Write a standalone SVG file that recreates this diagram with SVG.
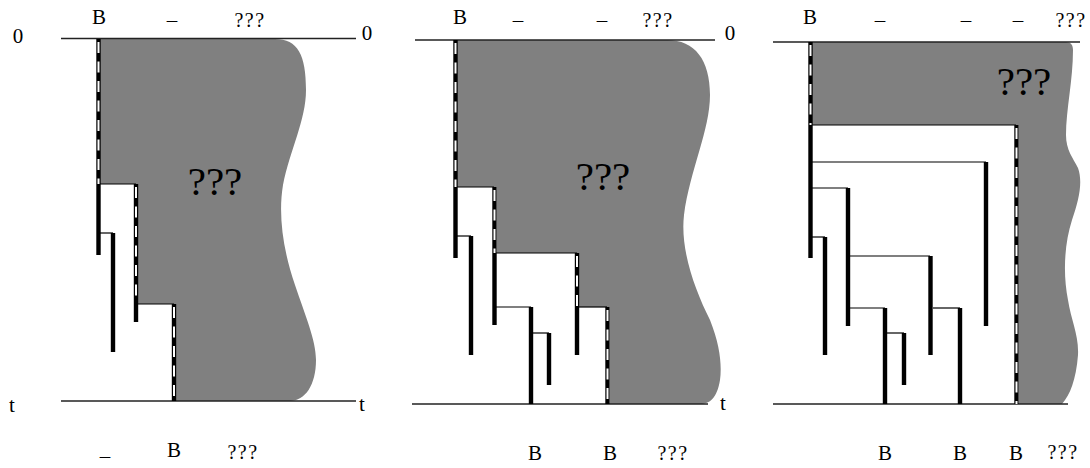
<svg xmlns="http://www.w3.org/2000/svg" width="1090" height="468" viewBox="0 0 1090 468">
<style>
text{font-family:"Liberation Serif","Times New Roman",serif;fill:#000}
.lab{font-size:21px;text-anchor:middle}
.q{font-size:20px;text-anchor:middle;letter-spacing:1.5px}
.big{font-size:41px;text-anchor:middle}
.ax{stroke:#222;stroke-width:1.4;fill:none}
.region{fill:#808080;stroke:none}
.bar{stroke:#000;stroke-width:4.4;fill:none}
.dw{stroke:#fff;stroke-width:2;stroke-dasharray:11 8.5;stroke-dashoffset:-3;fill:none}
.link{stroke:#000;stroke-width:1.2;fill:none}
</style>
<rect width="1090" height="468" fill="#fff"/>

<!-- Panel 1 -->
<g id="panel1">
  <path class="region" d="M100,39 H275 C298,39 306,55 306,90 C306,120 290,150 283,185 C278,215 283,250 295,285 C305,315 316,340 316,360 C316,385 305,401 290,401 H176 V304 H138 V184 H100 Z"/>
  <g id="p1-axes">
    <line class="ax" x1="61" y1="38.5" x2="356" y2="38.5"/>
    <line class="ax" x1="61" y1="401" x2="356" y2="401"/>
    <text class="lab" x="18" y="43">0</text>
    <text class="lab" x="367" y="40">0</text>
    <text class="lab" x="12" y="412">t</text>
    <text class="lab" x="362" y="411">t</text>
  </g>
  <g id="p1-labels">
    <text class="lab" x="99" y="24">B</text>
    <text class="lab" x="172" y="27">–</text>
    <text class="q" x="250" y="27">???</text>
    <text class="lab" x="105" y="463">–</text>
    <text class="lab" x="174" y="457">B</text>
    <text class="q" x="243" y="459">???</text>
    <text class="big" x="215" y="195">???</text>
  </g>
  <g id="p1-n1"><line class="bar" x1="98.5" y1="39" x2="98.5" y2="255"/><line class="dw" x1="98.5" y1="39" x2="98.5" y2="184"/></g>
  <g id="p1-n2"><line class="bar" x1="113" y1="233" x2="113" y2="352"/></g>
  <g id="p1-n3"><line class="bar" x1="136" y1="184" x2="136" y2="322"/><line class="dw" x1="136" y1="184" x2="136" y2="304"/></g>
  <g id="p1-n4"><line class="bar" x1="174" y1="304" x2="174" y2="401"/><line class="dw" x1="174" y1="304" x2="174" y2="401"/></g>
</g>

<!-- Panel 2 -->
<g id="panel2">
  <path class="region" d="M457,40 H667 C695,40 710,60 710,95 C710,130 690,170 684,215 C680,250 695,290 710,320 C720,345 722,365 720,380 C717,398 710,404 700,404 H610 V307 H579 V253 H497 V187 H457 Z"/>
  <g id="p2-axes">
    <line class="ax" x1="415" y1="40" x2="715" y2="40"/>
    <line class="ax" x1="412" y1="404" x2="708" y2="404"/>
    <text class="lab" x="730" y="40">0</text>
    <text class="lab" x="723" y="410">t</text>
  </g>
  <g id="p2-labels">
    <text class="lab" x="460" y="24">B</text>
    <text class="lab" x="518" y="27">–</text>
    <text class="lab" x="602" y="27">–</text>
    <text class="q" x="658" y="27">???</text>
    <text class="lab" x="535" y="460">B</text>
    <text class="lab" x="610" y="460">B</text>
    <text class="q" x="673" y="460">???</text>
    <text class="big" x="603" y="190">???</text>
  </g>
  <g id="p2-n1"><line class="bar" x1="455.5" y1="40" x2="455.5" y2="258"/><line class="dw" x1="455.5" y1="40" x2="455.5" y2="187"/></g>
  <g id="p2-n2"><line class="bar" x1="471" y1="236" x2="471" y2="355"/></g>
  <g id="p2-n3"><line class="bar" x1="494.5" y1="187" x2="494.5" y2="325"/><line class="dw" x1="494.5" y1="187" x2="494.5" y2="253"/></g>
  <g id="p2-n4"><line class="bar" x1="531" y1="307" x2="531" y2="404"/></g>
  <g id="p2-n5"><line class="bar" x1="549" y1="333" x2="549" y2="385"/></g>
  <g id="p2-n6"><line class="bar" x1="577" y1="253" x2="577" y2="355"/><line class="dw" x1="577" y1="253" x2="577" y2="307"/></g>
  <g id="p2-n7"><line class="bar" x1="607.5" y1="307" x2="607.5" y2="404"/><line class="dw" x1="607.5" y1="307" x2="607.5" y2="404"/></g>
</g>

<!-- Panel 3 -->
<g id="panel3">
  <path class="region" d="M812,42 H1066 C1071,42 1073,45 1073,50 C1073,80 1066,110 1066,135 C1066,150 1073,158 1078,168 C1083,182 1079,200 1072,220 C1064,245 1063,275 1068,300 C1071,320 1079,335 1078,355 C1076,380 1070,395 1062,404 H1019 V125 H812 Z"/>
  <g id="p3-axes">
    <line class="ax" x1="773" y1="42" x2="1080" y2="42"/>
    <line class="ax" x1="773" y1="404" x2="1068" y2="404"/>
  </g>
  <g id="p3-labels">
    <text class="lab" x="810" y="24">B</text>
    <text class="lab" x="880" y="27">–</text>
    <text class="lab" x="966" y="27">–</text>
    <text class="lab" x="1018" y="27">–</text>
    <text class="q" x="1071" y="27">???</text>
    <text class="lab" x="885" y="460">B</text>
    <text class="lab" x="960" y="460">B</text>
    <text class="lab" x="1016" y="460">B</text>
    <text class="q" x="1063" y="459">???</text>
    <text class="big" x="1024" y="95">???</text>
  </g>
  <g id="p3-n1"><line class="bar" x1="810.5" y1="42" x2="810.5" y2="258"/><line class="dw" x1="810.5" y1="42" x2="810.5" y2="125"/></g>
  <g id="p3-n2"><line class="bar" x1="825" y1="237" x2="825" y2="355"/></g>
  <g id="p3-n3"><line class="bar" x1="848" y1="188" x2="848" y2="326"/></g>
  <g id="p3-n4"><line class="bar" x1="885" y1="308" x2="885" y2="404"/></g>
  <g id="p3-n5"><line class="bar" x1="904" y1="333" x2="904" y2="385"/></g>
  <g id="p3-n6"><line class="bar" x1="930.5" y1="256" x2="930.5" y2="355"/></g>
  <g id="p3-n7"><line class="bar" x1="960" y1="308" x2="960" y2="404"/></g>
  <g id="p3-n8"><line class="bar" x1="986" y1="162" x2="986" y2="326"/></g>
  <g id="p3-n9"><line class="bar" x1="1016.5" y1="125" x2="1016.5" y2="404"/><line class="dw" x1="1016.5" y1="125" x2="1016.5" y2="404"/></g>
</g>

<!-- Connectors -->
<g id="connectors">
  <line class="link" x1="100" y1="184" x2="136" y2="184"/>
  <line class="link" x1="100" y1="233" x2="113" y2="233"/>
  <line class="link" x1="138" y1="304" x2="174" y2="304"/>

  <line class="link" x1="457" y1="187" x2="494" y2="187"/>
  <line class="link" x1="457" y1="236" x2="471" y2="236"/>
  <line class="link" x1="496" y1="253" x2="577" y2="253"/>
  <line class="link" x1="496" y1="307" x2="531" y2="307"/>
  <line class="link" x1="533" y1="333" x2="549" y2="333"/>
  <line class="link" x1="579" y1="307" x2="607" y2="307"/>

  <line class="link" x1="812" y1="125" x2="1016" y2="125"/>
  <line class="link" x1="812" y1="162" x2="986" y2="162"/>
  <line class="link" x1="812" y1="188" x2="848" y2="188"/>
  <line class="link" x1="812" y1="237" x2="825" y2="237"/>
  <line class="link" x1="850" y1="256" x2="930" y2="256"/>
  <line class="link" x1="850" y1="308" x2="885" y2="308"/>
  <line class="link" x1="887" y1="333" x2="904" y2="333"/>
  <line class="link" x1="933" y1="308" x2="960" y2="308"/>
</g>
</svg>
